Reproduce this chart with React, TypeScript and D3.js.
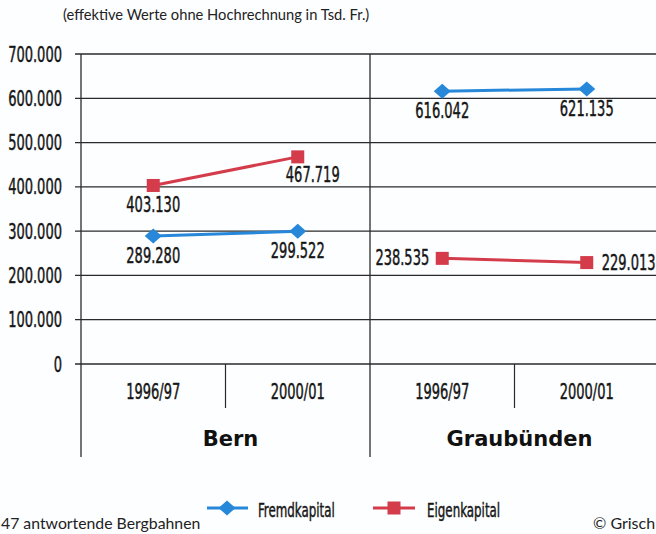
import React from "react";
import * as d3 from "d3";

const regions = ["Bern", "Graubünden"];
const years = ["1996/97", "2000/01"];
const fremdkapital = [289280, 299522, 616042, 621135];
const eigenkapital = [403130, 467719, 238535, 229013];
const fremdLabelPos = ["below", "below", "below", "below"];
const eigenLabelPos = ["below", "below-right", "left", "right"];
const yTicks = [0, 100000, 200000, 300000, 400000, 500000, 600000, 700000];
const subtitle = "(effektive Werte ohne Hochrechnung in Tsd. Fr.)";
const footerLeft = "47 antwortende Bergbahnen";
const footerRight = "© Grisch";
const seriesNames = ["Fremdkapital", "Eigenkapital"];

const W = 656;
const H = 534;
const BLUE = "#2787d9";
const RED = "#d43b4b";
const GRID = "#2a2a2a";
const NARROW = "'DejaVu Sans Condensed', 'DejaVu Sans', sans-serif";
const GEO = "Lato, 'Open Sans', sans-serif";

const locale = d3.formatLocale({ thousands: ".", grouping: [3], decimal: ",", currency: ["", ""] });
const fmt = locale.format(",");

function NText({ x, y, anchor = "middle", children, size = 21, sx = 0.69 }: any) {
  return (
    <g transform={`translate(${x},${y}) scale(${sx},1)`}>
      <text
        textAnchor={anchor}
        fontFamily={NARROW}
        fontSize={size}
        fill="#161616"
        stroke="#161616"
        strokeWidth={0.45}
      >
        {children}
      </text>
    </g>
  );
}

export default function App() {
  const y = d3.scaleLinear().domain([0, 700000]).range([364, 54]);
  const xOuter = d3.scaleBand().domain(regions).range([81, 659]).paddingInner(0).paddingOuter(0);
  const xInner = d3.scaleBand().domain(years).range([0, xOuter.bandwidth()]);
  const cx = (i: number) => {
    const r = regions[Math.floor(i / 2)];
    const yr = years[i % 2];
    return (xOuter(r) as number) + (xInner(yr) as number) + xInner.bandwidth() / 2;
  };

  const bottom = y(0);

  const labelFor = (v: number, i: number, pos: string) => {
    const px = cx(i);
    const py = y(v);
    if (pos === "below") return { x: px, y: py + 27, a: "middle" };
    if (pos === "below-right") return { x: px + 15, y: py + 25, a: "middle" };
    if (pos === "left") return { x: px - 13, y: py + 7, a: "end" };
    return { x: px + 15, y: py + 7, a: "start" };
  };

  const seriesSets = [
    { vals: fremdkapital, color: BLUE, marker: "diamond", pos: fremdLabelPos },
    { vals: eigenkapital, color: RED, marker: "square", pos: eigenLabelPos },
  ];

  const line = d3
    .line<[number, number]>()
    .x((d) => d[0])
    .y((d) => d[1]);

  const Marker = ({ type, x, yy, color }: any) =>
    type === "diamond" ? (
      <path d={`M${x},${yy - 7.5}L${x + 8.5},${yy}L${x},${yy + 7.5}L${x - 8.5},${yy}Z`} fill={color} />
    ) : (
      <rect x={x - 6.5} y={yy - 6.5} width={13} height={13} fill={color} />
    );

  return (
    <svg width={W} height={H} style={{ position: "absolute", left: 0, top: 0, background: "#fdfeff" }}>
      <rect width={W} height={H} fill="#fdfeff" />
      <text x={63} y={20} fontFamily={GEO} fontSize={14.7} fill="#222">
        {subtitle}
      </text>

      {/* horizontal grid */}
      {yTicks.map((t) => (
        <g key={t}>
          <line x1={75} x2={W} y1={y(t)} y2={y(t)} stroke={GRID} strokeWidth={1.3} />
          <NText x={62} y={y(t) + 7.5} anchor="end">
            {fmt(t)}
          </NText>
        </g>
      ))}

      {/* vertical separators */}
      {regions.map((r) => (
        <line key={r} x1={xOuter(r)} x2={xOuter(r)} y1={y(700000)} y2={457} stroke={GRID} strokeWidth={1.3} />
      ))}
      <line x1={xOuter.range()[1]} x2={xOuter.range()[1]} y1={y(700000)} y2={457} stroke={GRID} strokeWidth={1.3} />
      {regions.map((r) => (
        <line
          key={r + "s"}
          x1={(xOuter(r) as number) + (xInner(years[1]) as number)}
          x2={(xOuter(r) as number) + (xInner(years[1]) as number)}
          y1={bottom}
          y2={408}
          stroke={GRID}
          strokeWidth={1.2}
        />
      ))}

      {/* category labels */}
      {regions.map((r, ri) =>
        years.map((yr, yi) => (
          <NText key={r + yr} x={cx(ri * 2 + yi)} y={399}>
            {yr}
          </NText>
        ))
      )}
      {regions.map((r) => (
        <text
          key={r + "t"}
          x={(xOuter(r) as number) + xOuter.bandwidth() / 2 + 5}
          y={446}
          textAnchor="middle"
          fontFamily="'DejaVu Sans', sans-serif"
          fontWeight="bold"
          fontSize={21}
          fill="#111"
        >
          {r}
        </text>
      ))}

      {/* series */}
      {seriesSets.map((s, si) =>
        regions.map((r, ri) => {
          const pts: [number, number][] = [0, 1].map((k) => [cx(ri * 2 + k), y(s.vals[ri * 2 + k])]);
          return (
            <g key={si + r}>
              <path d={line(pts) as string} stroke={s.color} strokeWidth={3} fill="none" />
              {pts.map((p, k) => (
                <Marker key={k} type={s.marker} x={p[0]} yy={p[1]} color={s.color} />
              ))}
              {[0, 1].map((k) => {
                const i = ri * 2 + k;
                const L = labelFor(s.vals[i], i, s.pos[i]);
                return (
                  <NText key={"l" + k} x={L.x} y={L.y} anchor={L.a}>
                    {fmt(s.vals[i])}
                  </NText>
                );
              })}
            </g>
          );
        })
      )}

      {/* legend */}
      <line x1={207} x2={248} y1={508} y2={508} stroke={BLUE} strokeWidth={3} />
      <Marker type="diamond" x={227} yy={508} color={BLUE} />
      <NText x={258} y={517} anchor="start" size={20} sx={0.66}>
        {seriesNames[0]}
      </NText>
      <line x1={373} x2={415} y1={508} y2={508} stroke={RED} strokeWidth={3} />
      <Marker type="square" x={394} yy={508} color={RED} />
      <NText x={427} y={517} anchor="start" size={20} sx={0.66}>
        {seriesNames[1]}
      </NText>

      {/* footer */}
      <text x={1} y={529} fontFamily={GEO} fontSize={15.8} fill="#222">
        {footerLeft}
      </text>
      <text x={593} y={529} fontFamily={GEO} fontSize={16} fill="#222">
        {footerRight}
      </text>
    </svg>
  );
}
